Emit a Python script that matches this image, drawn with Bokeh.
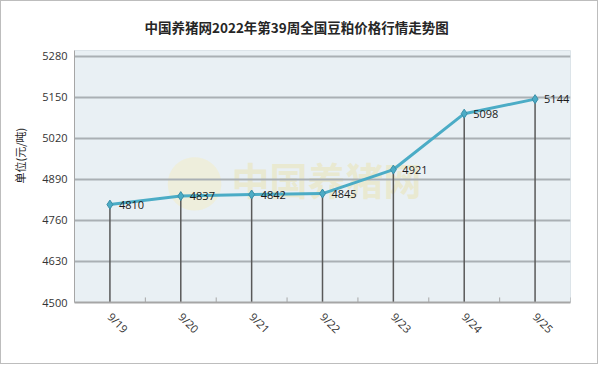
import math
from bokeh.plotting import figure
from bokeh.models import Range1d, FactorRange, Label, Title, ColumnDataSource
from bokeh.core.properties import value
from bokeh.transform import dodge
from bokeh.embed import file_html
from bokeh.resources import INLINE

# ---- data ----
title_text = "中国养猪网2022年第39周全国豆粕价格行情走势图"
y_label = "单位(元/吨)"
watermark = "中国养猪网"
dates = ["9/19", "9/20", "9/21", "9/22", "9/23", "9/24", "9/25"]
prices = [4810, 4837, 4842, 4845, 4921, 5098, 5144]
y_ticks = [4500, 4630, 4760, 4890, 5020, 5150, 5280]
y_min, y_max = 4500, 5298

src = ColumnDataSource(dict(
    date=dates,
    price=prices,
    base=[y_min] * len(dates),
    tick_top=[y_min + 16] * len(dates),
    label=[str(v) for v in prices],
))

CJK = "Noto Sans CJK SC"

p = figure(
    width=598, height=364,
    x_range=FactorRange(*dates), y_range=Range1d(y_min, y_max),
    output_backend="svg", toolbar_location=None,
    min_border_left=72, min_border_right=29, min_border_top=49, min_border_bottom=63,
    background_fill_color="#E9F0F4", border_fill_color="white",
    title=None,
)
p.styles = {"border": "1px solid #BDBDBD"}
p.outline_line_color = "#DCE4E9"

# title and y-axis caption
p.add_layout(Title(text=title_text, align="left", offset=70, text_font=CJK,
                   text_font_size="13.5px", text_font_style="bold", text_color="#262626",
                   standoff=27), "above")
p.add_layout(Title(text=y_label, align="left", offset=119, text_font=CJK,
                   text_font_size="11px", text_font_style="normal", text_color="#262626",
                   vertical_align="top", standoff=20), "left")

# axes
p.yaxis.ticker = y_ticks
p.yaxis.major_tick_in = 0
p.yaxis.major_tick_out = 0
p.yaxis.minor_tick_line_color = None
p.yaxis.major_label_standoff = 7
p.yaxis.axis_line_color = "#A6A6A6"
p.yaxis.major_label_text_font_size = "11px"
p.yaxis.major_label_text_font = "Open Sans"
p.yaxis.major_label_text_color = "#333333"

p.xaxis.major_label_orientation = -math.pi / 4
p.xaxis.major_tick_in = 0
p.xaxis.major_tick_out = 0
p.xaxis.major_label_standoff = 12
p.xaxis.axis_line_color = "#A6A6A6"
p.xaxis.axis_line_width = 2
p.xaxis.major_label_text_font_size = "11px"
p.xaxis.major_label_text_font = "Open Sans"
p.xaxis.major_label_text_color = "#333333"

p.xgrid.visible = False
p.ygrid.ticker = y_ticks
p.ygrid.grid_line_color = "#AAB0B4"
p.ygrid.grid_line_width = 2

# watermark
p.add_layout(Label(x=120, y=125, x_units="screen", y_units="screen", text="●",
                   text_font="DejaVu Sans", text_font_size="70px", text_color="#F1EDCC",
                   text_alpha=0.6, text_align="center", text_baseline="middle", level="image"))
p.add_layout(Label(x=157, y=124, x_units="screen", y_units="screen", text=watermark,
                   text_font=CJK, text_font_size="38px", text_font_style="bold",
                   text_color="#EAE6C2", text_alpha=0.7, text_baseline="middle", level="image"))

# boundary ticks on category axis
p.segment(x0=dodge("date", 0.5, range=p.x_range), y0="base",
          x1=dodge("date", 0.5, range=p.x_range), y1="tick_top",
          source=src, line_color="#A6A6A6", line_width=1)

# drop lines
p.segment(x0="date", y0="base", x1="date", y1="price", source=src,
          line_color="#595959", line_width=1.5)
# series
p.line("date", "price", source=src, line_color="#4BACC6", line_width=3)
p.scatter("date", "price", source=src, marker="diamond", size=9,
          fill_color="#4BACC6", line_color="#3B8FA8")
p.text("date", "price", text="label", source=src, x_offset=9,
       text_baseline="middle", text_align="left", text_font_size="11px",
       text_color="#1A1A1A", text_font=value("Open Sans"))

open("out.html", "w").write(file_html(p, INLINE))
